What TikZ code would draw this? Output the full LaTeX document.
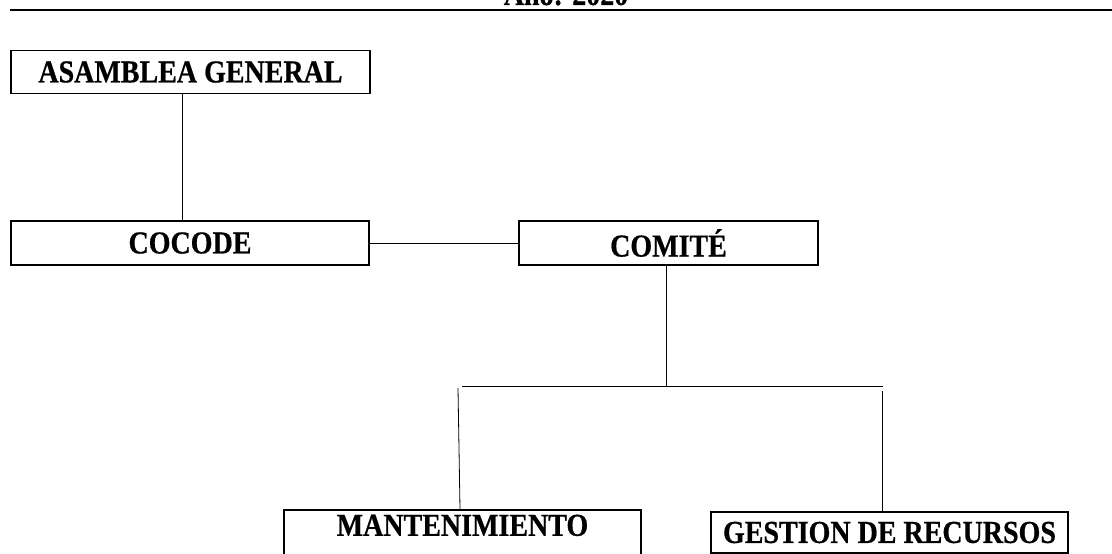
\documentclass[tikz,border=0pt]{standalone}
\usepackage{fontspec}
\setmainfont{Liberation Serif}[FakeStretch=0.875, BoldFeatures={FakeBold=0.6}]
\usetikzlibrary{positioning}

\begin{document}
\begin{tikzpicture}[
    x=1pt, y=-1pt,
    box/.style={rectangle, draw, line width=1.6pt, inner sep=0pt, minimum height=43pt, text centered, font=\bfseries\fontsize{32}{35}\selectfont},
    link/.style={line width=0.8pt}
]
\useasboundingbox (0,0) rectangle (1112,554);

% Header (cut at the top)
\node[anchor=base, font=\bfseries\fontsize{32}{35}\selectfont] (year) at (566,5) {Año: 2020};
\coordinate (ruleL) at (10,10);
\coordinate (ruleR) at (1112,10);
\draw[line width=1.8pt] (ruleL) -- (ruleR);

% Row 1: Asamblea
\node[box, minimum width=359pt] (asamblea) at (190.5,72) {ASAMBLEA GENERAL};

% Row 2: Cocode and Comite
\node[box, minimum width=358pt, minimum height=44pt] (cocode) at (190,243) {COCODE};
\node[box, minimum width=299pt, minimum height=44pt] (comite) at (668.5,243) {COMITÉ};

% Row 3: Mantenimiento and Gestion
\node[box, minimum width=357pt, anchor=north, text height=21pt, text depth=40pt, inner ysep=5pt] (mant) at (462.5,509) {MANTENIMIENTO};
\node[box, minimum width=357pt, minimum height=41pt] (gestion) at (889.5,532.5) {GESTION DE RECURSOS};

% Lines
\coordinate (busL) at (462,386);
\coordinate (busR) at (883,386);
\coordinate (dropL) at (458,388);
\coordinate (dropR) at (882,391);
\draw[link] ([xshift=-8.5pt]asamblea.south) -- ([xshift=-8pt]cocode.north);
\draw[link] (cocode.east) -- (comite.west);
\draw[link] ([xshift=-2.5pt]comite.south) -- ([xshift=-2.5pt]comite.south |- busL);
\draw[link] (busL) -- (busR);
\draw[link] (dropL) -- ([xshift=-2.5pt]mant.north);
\draw[link] (dropR) -- ([xshift=-7.5pt]gestion.north);

\end{tikzpicture}
\end{document}
